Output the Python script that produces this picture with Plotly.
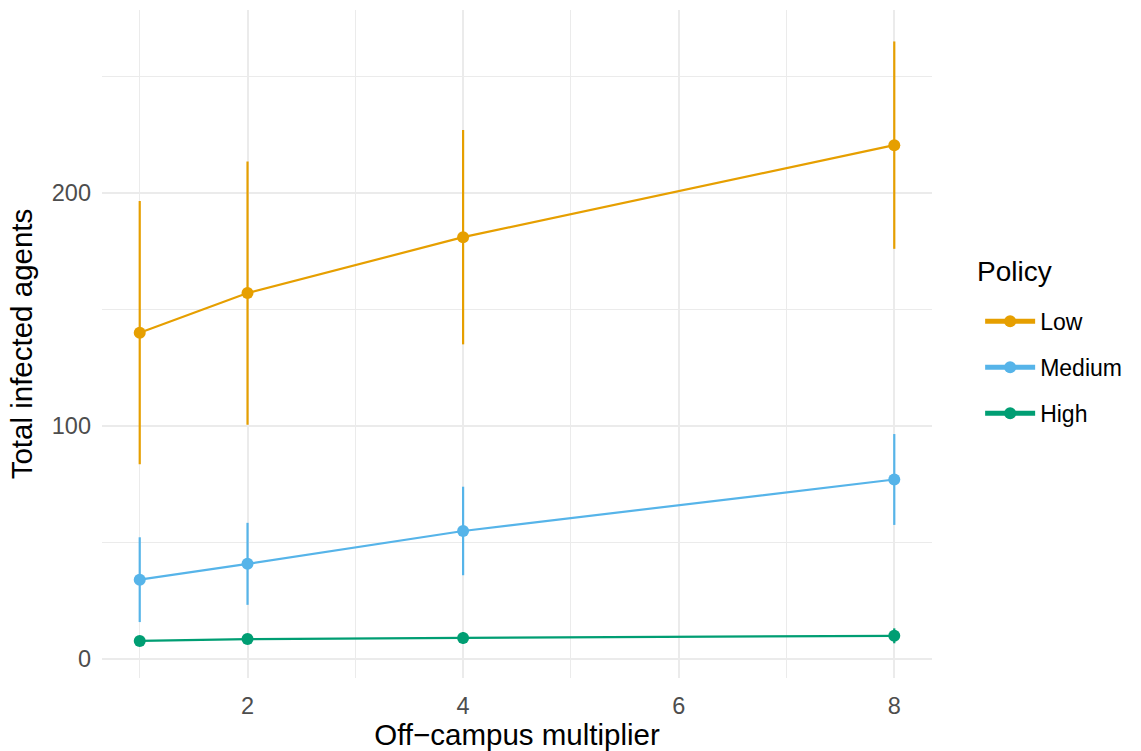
import plotly.graph_objects as go

multiplier = [1, 2, 4, 8]
policies = ["Low", "Medium", "High"]
colors = {"Low": "#E69F00", "Medium": "#56B4E9", "High": "#009E73"}
mean_low = [140, 157, 181, 220.5]
err_low = [56.5, 56.5, 46, 44.5]
mean_medium = [34, 40.8, 54.9, 77]
err_medium = [18.2, 17.6, 19, 19.5]
mean_high = [7.7, 8.5, 9.0, 9.9]
err_high = [2.0, 2.0, 2.5, 3.2]

means = {"Low": mean_low, "Medium": mean_medium, "High": mean_high}
errs = {"Low": err_low, "Medium": err_medium, "High": err_high}

FONT = "Liberation Sans, Arial, Helvetica, sans-serif"

fig = go.Figure()
for p in policies:
    fig.add_trace(go.Scatter(
        x=multiplier, y=means[p], name=p, mode="lines+markers",
        legendgroup=p,
        line=dict(color=colors[p], width=2.2),
        marker=dict(color=colors[p], size=12),
        error_y=dict(type="data", array=errs[p], visible=True,
                     color=colors[p], thickness=2.2, width=0),
    ))

grid_major = "#EBEBEB"
fig.update_layout(
    width=1141, height=751,
    margin=dict(l=102, r=209, t=10, b=73),
    paper_bgcolor="white", plot_bgcolor="white",
    font=dict(family=FONT, color="black"),
    showlegend=True,
    legend=dict(
        font=dict(size=23, color="black"),
        x=1.058, xanchor="left", y=0.566, yanchor="top",
        tracegroupgap=13, itemsizing="constant", itemwidth=50,
    ),
    annotations=[dict(
        text="Policy", x=1.052, xref="paper", xanchor="left",
        y=0.608, yref="paper", yanchor="middle", showarrow=False,
        font=dict(size=28, color="black"),
    )],
    xaxis=dict(
        range=[0.65, 8.35], tickvals=[2, 4, 6, 8], ticktext=["2", "4", "6", "8"],
        showgrid=True, gridcolor=grid_major, gridwidth=2,
        minor=dict(tickvals=[1, 3, 5, 7], showgrid=True, gridcolor=grid_major, gridwidth=1.2),
        zeroline=False, showline=False, ticks="",
        tickfont=dict(size=23.5, color="#4D4D4D"),
        ticklabelstandoff=11, automargin=False,
        title=dict(text="Off\u2212campus multiplier", font=dict(size=29.5, color="black"), standoff=8),
    ),
    yaxis=dict(
        range=[-8.2, 278.5], tickvals=[0, 100, 200],
        showgrid=True, gridcolor=grid_major, gridwidth=2,
        minor=dict(tickvals=[50, 150, 250], showgrid=True, gridcolor=grid_major, gridwidth=1.2),
        zeroline=False, showline=False, ticks="",
        tickfont=dict(size=23.5, color="#4D4D4D"),
        ticklabelstandoff=10, automargin=False,
        title=dict(text="Total infected agents", font=dict(size=29.5, color="black"), standoff=10),
    ),
)

fig.write_html("out.html")
